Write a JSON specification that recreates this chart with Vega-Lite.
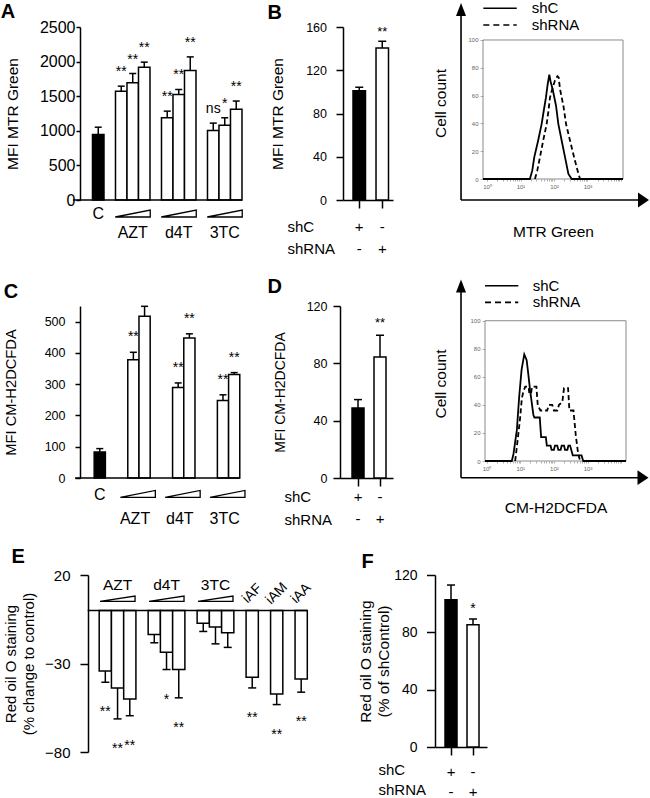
{
"$schema": "https://vega.github.io/schema/vega-lite/v6.json",
"background": "white",
"padding": {"left": 0, "top": 1, "right": 0, "bottom": 0},
"config": {
 "font": "Liberation Sans",
 "view": {"stroke": null},
 "axis": {"domainColor": "black", "domainWidth": 1.5, "tickColor": "black", "tickWidth": 1.5, "labelColor": "black", "titleColor": "black", "labelFont": "Liberation Sans", "titleFont": "Liberation Sans", "titleFontWeight": "normal", "grid": false, "labelFlush": false, "labelOverlap": false, "tickCount": 100},
 "text": {"font": "Liberation Sans", "color": "black"}
},
"datasets": {
 "A": [
  {"slot":"C","mean":945,"upper":1052,"group":"control","sig":""},
  {"slot":"AZT1","mean":1572,"upper":1645,"group":"treated","sig":"**"},
  {"slot":"AZT2","mean":1695,"upper":1828,"group":"treated","sig":"**"},
  {"slot":"AZT3","mean":1918,"upper":1992,"group":"treated","sig":"**"},
  {"slot":"d4T1","mean":1188,"upper":1284,"group":"treated","sig":"**"},
  {"slot":"d4T2","mean":1525,"upper":1597,"group":"treated","sig":"**"},
  {"slot":"d4T3","mean":1871,"upper":2068,"group":"treated","sig":"**"},
  {"slot":"3TC1","mean":1006,"upper":1111,"group":"treated","sig":"ns"},
  {"slot":"3TC2","mean":1080,"upper":1188,"group":"treated","sig":"*"},
  {"slot":"3TC3","mean":1313,"upper":1430,"group":"treated","sig":"**"}
 ],
 "B": [
  {"g":"shC","mean":101,"upper":104.3,"group":"control","sig":""},
  {"g":"shRNA","mean":140.6,"upper":146.8,"group":"treated","sig":"**"}
 ],
 "C": [
  {"slot":"C","mean":83,"upper":94,"group":"control","sig":""},
  {"slot":"AZT2","mean":378,"upper":402,"group":"treated","sig":"**"},
  {"slot":"AZT3","mean":517,"upper":549,"group":"treated","sig":""},
  {"slot":"d4T2","mean":289,"upper":304,"group":"treated","sig":"**"},
  {"slot":"d4T3","mean":448,"upper":461,"group":"treated","sig":"**"},
  {"slot":"3TC2","mean":248,"upper":266,"group":"treated","sig":"**"},
  {"slot":"3TC3","mean":331,"upper":337,"group":"treated","sig":"**"}
 ],
 "D": [
  {"g":"shC","mean":48.8,"upper":54.7,"group":"control","sig":""},
  {"g":"shRNA","mean":84.4,"upper":99.6,"group":"treated","sig":"**"}
 ],
 "E": [
  {"slot":"AZT1","mean":-34.3,"lower":-40.6,"sig":"**"},
  {"slot":"AZT2","mean":-43.8,"lower":-61.3,"sig":"**"},
  {"slot":"AZT3","mean":-50.0,"lower":-59.5,"sig":"**"},
  {"slot":"d4T1","mean":-13.6,"lower":-18.3,"sig":""},
  {"slot":"d4T2","mean":-23.6,"lower":-33.4,"sig":"*"},
  {"slot":"d4T3","mean":-33.4,"lower":-49.4,"sig":"**"},
  {"slot":"3TC1","mean":-7.2,"lower":-11.9,"sig":""},
  {"slot":"3TC2","mean":-9.4,"lower":-18.9,"sig":""},
  {"slot":"3TC3","mean":-12.6,"lower":-20.9,"sig":""},
  {"slot":"iAF","mean":-37.7,"lower":-43.8,"sig":"**"},
  {"slot":"iAM","mean":-47.2,"lower":-53.2,"sig":"**"},
  {"slot":"iAA","mean":-38.7,"lower":-46.2,"sig":"**"}
 ],
 "F": [
  {"g":"shC","mean":102.7,"upper":113,"group":"control","sig":""},
  {"g":"shRNA","mean":85.3,"upper":89.3,"group":"treated","sig":"*"}
 ],
 "H1": [
  {"series":"shC","x":0.7586,"n":0},{"series":"shC","x":19.05,"n":0},{"series":"shC","x":22.39,"n":6},{"series":"shC","x":25.7,"n":15.6},{"series":"shC","x":33.11,"n":27},{"series":"shC","x":42.66,"n":39.5},{"series":"shC","x":50.12,"n":50},{"series":"shC","x":57.54,"n":58.7},{"series":"shC","x":64.57,"n":68},{"series":"shC","x":72.44,"n":75},{"series":"shC","x":79.43,"n":70},{"series":"shC","x":91.2,"n":64.6},{"series":"shC","x":114.8,"n":52.7},{"series":"shC","x":134.9,"n":39.5},{"series":"shC","x":169.8,"n":27.5},{"series":"shC","x":213.8,"n":15.6},{"series":"shC","x":269.2,"n":3.6},{"series":"shC","x":338.8,"n":0},{"series":"shC","x":11482,"n":0},
  {"series":"shRNA","x":26.92,"n":0},{"series":"shRNA","x":31.62,"n":6},{"series":"shRNA","x":38.02,"n":15.6},{"series":"shRNA","x":47.86,"n":28},{"series":"shRNA","x":60.26,"n":39.5},{"series":"shRNA","x":69.18,"n":50},{"series":"shRNA","x":75.86,"n":58.7},{"series":"shRNA","x":89.13,"n":65},{"series":"shRNA","x":107.2,"n":71},{"series":"shRNA","x":125.9,"n":74},{"series":"shRNA","x":138.0,"n":73},{"series":"shRNA","x":151.4,"n":64.6},{"series":"shRNA","x":190.5,"n":52.7},{"series":"shRNA","x":229.1,"n":39.5},{"series":"shRNA","x":302.0,"n":27.5},{"series":"shRNA","x":398.1,"n":15.6},{"series":"shRNA","x":537.0,"n":3.6},{"series":"shRNA","x":602.6,"n":0}
 ],
 "H2": [
  {"series":"shC","x":0.9016,"n":0},{"series":"shC","x":5.623,"n":0},{"series":"shC","x":6.31,"n":5},{"series":"shC","x":7.943,"n":22},{"series":"shC","x":9.333,"n":46},{"series":"shC","x":10.96,"n":65},{"series":"shC","x":13.18,"n":76},{"series":"shC","x":15.49,"n":72},{"series":"shC","x":17.38,"n":62},{"series":"shC","x":19.5,"n":51},{"series":"shC","x":21.88,"n":42},{"series":"shC","x":24.55,"n":33},{"series":"shC","x":26.3,"n":31},{"series":"shC","x":38.02,"n":31},{"series":"shC","x":41.69,"n":17},{"series":"shC","x":57.54,"n":17},{"series":"shC","x":61.66,"n":11},{"series":"shC","x":79.43,"n":11},{"series":"shC","x":85.11,"n":8},{"series":"shC","x":100,"n":8},{"series":"shC","x":107.2,"n":11},{"series":"shC","x":125.9,"n":11},{"series":"shC","x":134.9,"n":8},{"series":"shC","x":158.5,"n":8},{"series":"shC","x":169.8,"n":11},{"series":"shC","x":199.5,"n":11},{"series":"shC","x":213.8,"n":8},{"series":"shC","x":251.2,"n":8},{"series":"shC","x":269.2,"n":11},{"series":"shC","x":302.0,"n":11},{"series":"shC","x":363.1,"n":4},{"series":"shC","x":660.7,"n":4},{"series":"shC","x":741.3,"n":0},{"series":"shC","x":13772,"n":0},
  {"series":"shRNA","x":7.079,"n":0},{"series":"shRNA","x":7.943,"n":10},{"series":"shRNA","x":9.772,"n":29},{"series":"shRNA","x":11.22,"n":45},{"series":"shRNA","x":12.59,"n":50},{"series":"shRNA","x":14.13,"n":53},{"series":"shRNA","x":17.78,"n":53},{"series":"shRNA","x":18.62,"n":48},{"series":"shRNA","x":20.89,"n":48},{"series":"shRNA","x":22.39,"n":53},{"series":"shRNA","x":30.2,"n":53},{"series":"shRNA","x":33.11,"n":40},{"series":"shRNA","x":39.81,"n":36},{"series":"shRNA","x":63.1,"n":36},{"series":"shRNA","x":70.79,"n":40},{"series":"shRNA","x":89.13,"n":40},{"series":"shRNA","x":100,"n":36},{"series":"shRNA","x":125.9,"n":36},{"series":"shRNA","x":141.3,"n":40},{"series":"shRNA","x":177.8,"n":42},{"series":"shRNA","x":199.5,"n":52},{"series":"shRNA","x":263.0,"n":52},{"series":"shRNA","x":288.4,"n":36},{"series":"shRNA","x":380.2,"n":36},{"series":"shRNA","x":446.7,"n":18},{"series":"shRNA","x":524.8,"n":5},{"series":"shRNA","x":602.6,"n":0}
 ]
},
"spacing": 19,
"vconcat": [
 {"hconcat": [
  {"width": 172.5, "height": 173,
   "layer": [
    {"data": {"name": "A"}, "mark": {"type": "bar", "stroke": "black", "strokeWidth": 1.5},
     "encoding": {
      "x": {"field": "slot", "type": "nominal", "scale": {"domain": ["C","a1","AZT1","AZT2","AZT3","a2","d4T1","d4T2","d4T3","a3","3TC1","3TC2","3TC3"], "paddingInner": 0, "paddingOuter": 1.569, "align": 0.543}, "axis": null},
      "y": {"field": "mean", "type": "quantitative", "scale": {"domain": [0, 2500], "nice": false}, "axis": {"values": [0,500,1000,1500,2000,2500], "format": "d", "title": "MFI MTR Green", "labelFontSize": 16, "tickSize": 4, "labelPadding": 1, "titleFontSize": 15.5, "titlePadding": 19.3}},
      "fill": {"field": "group", "type": "nominal", "scale": {"domain": ["control","treated"], "range": ["black","white"]}, "legend": null}}},
    {"data": {"name": "A"}, "mark": {"type": "rule", "strokeWidth": 1.5, "color": "black"}, "encoding": {"x": {"field": "slot", "type": "nominal"}, "y": {"field": "mean", "type": "quantitative"}, "y2": {"field": "upper"}}},
    {"data": {"name": "A"}, "mark": {"type": "tick", "thickness": 1.5, "size": 7, "color": "black", "opacity": 1}, "encoding": {"x": {"field": "slot", "type": "nominal"}, "y": {"field": "upper", "type": "quantitative"}}},
    {"data": {"name": "A"}, "mark": {"type": "text", "fontSize": 14, "dy": -10, "baseline": "alphabetic"}, "encoding": {"x": {"field": "slot", "type": "nominal"}, "y": {"field": "upper", "type": "quantitative"}, "text": {"field": "sig"}}},
    {"data": {"values": [{}]}, "mark": {"type": "rule", "strokeWidth": 1.5, "color": "black"}, "encoding": {"x": {"datum": "C", "type": "nominal", "bandPosition": -1.703}, "x2": {"datum": "3TC3", "bandPosition": 1}, "y": {"datum": 0, "type": "quantitative"}}},
    {"data": {"values": [{"slot":"AZT2"},{"slot":"d4T2"},{"slot":"3TC2"}]}, "mark": {"type": "point", "shape": "M-1,0.2L1,0.2L1,-0.2Z", "size": 1225, "filled": false, "stroke": "black", "strokeWidth": 1.3, "opacity": 1}, "encoding": {"x": {"field": "slot", "type": "nominal"}, "y": {"datum": -195, "type": "quantitative"}}},
    {"data": {"values": [{"slot":"AZT2","label":"AZT"},{"slot":"d4T2","label":"d4T"},{"slot":"3TC2","label":"3TC"}]}, "mark": {"type": "text", "fontSize": 16, "baseline": "middle"}, "encoding": {"x": {"field": "slot", "type": "nominal"}, "y": {"datum": -476, "type": "quantitative"}, "text": {"field": "label"}}},
    {"data": {"values": [{"slot":"C","label":"C"}]}, "mark": {"type": "text", "fontSize": 16, "baseline": "middle"}, "encoding": {"x": {"field": "slot", "type": "nominal"}, "y": {"datum": -202, "type": "quantitative"}, "text": {"field": "label"}}},
    {"data": {"values": [{"panel": "A"}]}, "mark": {"type": "text", "fontSize": 20, "fontWeight": "bold", "align": "left", "baseline": "alphabetic"}, "encoding": {"x": {"datum": "C", "type": "nominal", "bandPosition": -7.98}, "y": {"datum": 2633, "type": "quantitative"}, "text": {"field": "panel"}}}
   ]},
  {"width": 50, "height": 173,
   "layer": [
    {"data": {"name": "B"}, "mark": {"type": "bar", "stroke": "black", "strokeWidth": 1.5},
     "encoding": {
      "x": {"field": "g", "type": "nominal", "scale": {"domain": ["shC","shRNA"], "paddingInner": 0.457, "paddingOuter": 0.315, "align": 0.69},
            "axis": {"labelExpr": "datum.value == 'shC' ? ['+', '-'] : ['-', '+']", "labelAngle": 0, "labelFontSize": 15, "labelLineHeight": 22, "labelBaseline": "top", "tickSize": 8, "labelPadding": 11.2, "title": ["shC", "shRNA"], "titleFontSize": 15, "titleLineHeight": 22, "titleAlign": "left", "titleBaseline": "top", "titleX": -56, "titleY": 19.5, "titleAngle": 0}},
      "y": {"field": "mean", "type": "quantitative", "scale": {"domain": [0, 160], "nice": false}, "axis": {"values": [0,40,80,120,160], "title": "MFI MTR Green", "labelFontSize": 12.5, "tickSize": 7, "labelPadding": 9.5, "titleFontSize": 15.5, "titlePadding": 19.9}},
      "fill": {"field": "group", "type": "nominal", "scale": {"domain": ["control","treated"], "range": ["black","white"]}, "legend": null}}},
    {"data": {"name": "B"}, "mark": {"type": "rule", "strokeWidth": 1.5, "color": "black"}, "encoding": {"x": {"field": "g", "type": "nominal"}, "y": {"field": "mean", "type": "quantitative"}, "y2": {"field": "upper"}}},
    {"data": {"name": "B"}, "mark": {"type": "tick", "thickness": 1.5, "size": 8, "color": "black", "opacity": 1}, "encoding": {"x": {"field": "g", "type": "nominal"}, "y": {"field": "upper", "type": "quantitative"}}},
    {"data": {"name": "B"}, "mark": {"type": "text", "fontSize": 13, "dy": -5.5, "baseline": "alphabetic"}, "encoding": {"x": {"field": "g", "type": "nominal"}, "y": {"field": "upper", "type": "quantitative"}, "text": {"field": "sig"}}},
    {"data": {"values": [{"panel": "B"}]}, "mark": {"type": "text", "fontSize": 20, "fontWeight": "bold", "align": "left", "baseline": "alphabetic"}, "encoding": {"x": {"datum": "shC", "type": "nominal", "bandPosition": -6.84}, "y": {"datum": 167.8, "type": "quantitative"}, "text": {"field": "panel"}}}
   ]},
  {"width": 140, "height": 152,
   "layer": [
    {"data": {"values": [{}]}, "mark": {"type": "rect", "fillOpacity": 0, "stroke": "#8a8a8a", "strokeWidth": 1},
     "encoding": {
      "x": {"datum": 0.7586, "type": "quantitative", "scale": {"type": "log", "domain": [0.7586, 11482], "nice": false},
            "axis": {"values": [1,2,3,4,5,6,7,8,9,10,20,30,40,50,60,70,80,90,100,200,300,400,500,600,700,800,900,1000,2000,3000,4000,5000,6000,7000,8000,9000,10000], "tickCount": 100, "labelExpr": "datum.value == 1 ? '10⁰' : datum.value == 10 ? '10¹' : datum.value == 100 ? '10²' : datum.value == 1000 ? '10³' : ''", "labelFontSize": 6, "labelColor": "#666", "tickColor": "#999", "tickSize": 2, "tickWidth": 0.8, "domain": false, "labelPadding": 2, "title": "MTR Green", "titleFontSize": 15.5, "titlePadding": 35}},
      "x2": {"datum": 11482},
      "y": {"datum": 0, "type": "quantitative", "scale": {"domain": [0, 109.35], "nice": false},
            "axis": {"values": [0,20,40,60,80,100], "labelFontSize": 6, "labelColor": "#666", "tickColor": "#999", "tickSize": 3, "tickWidth": 0.8, "domain": false, "labelPadding": 2, "title": "Cell count", "titleFontSize": 15.5, "titlePadding": 19.2}},
      "y2": {"datum": 100}}},
    {"data": {"name": "H1"}, "transform": [{"filter": "datum.series == 'shRNA'"}], "mark": {"type": "line", "color": "black", "strokeWidth": 1.8, "strokeDash": [5, 3]}, "encoding": {"x": {"field": "x", "type": "quantitative"}, "y": {"field": "n", "type": "quantitative"}}},
    {"data": {"name": "H1"}, "transform": [{"filter": "datum.series == 'shC'"}], "mark": {"type": "line", "color": "black", "strokeWidth": 1.8}, "encoding": {"x": {"field": "x", "type": "quantitative"}, "y": {"field": "n", "type": "quantitative"}}},
    {"data": {"values": [{}]}, "mark": {"type": "rule", "color": "black", "strokeWidth": 1.6}, "encoding": {"x": {"datum": 0.1675, "type": "quantitative"}, "y": {"datum": -15.1, "type": "quantitative"}, "y2": {"datum": 121}}},
    {"data": {"values": [{}]}, "mark": {"type": "rule", "color": "black", "strokeWidth": 1.6}, "encoding": {"x": {"datum": 0.1675, "type": "quantitative"}, "x2": {"datum": 46990}, "y": {"datum": -15.1, "type": "quantitative"}}},
    {"data": {"values": [{}]}, "mark": {"type": "point", "shape": "M0,-1L0.77,1L-0.77,1Z", "size": 169, "filled": true, "color": "black", "opacity": 1, "strokeWidth": 0}, "encoding": {"x": {"datum": 0.1675, "type": "quantitative"}, "y": {"datum": 121.9, "type": "quantitative"}}},
    {"data": {"values": [{}]}, "mark": {"type": "point", "shape": "M1,0L-1,1.35L-1,-1.35Z", "size": 121, "filled": true, "color": "black", "opacity": 1, "strokeWidth": 0}, "encoding": {"x": {"datum": 46990, "type": "quantitative"}, "y": {"datum": -15.1, "type": "quantitative"}}},
    {"data": {"values": [{}]}, "mark": {"type": "rule", "color": "black", "strokeWidth": 1.6}, "encoding": {"x": {"datum": 0.776, "type": "quantitative"}, "x2": {"datum": 7.71}, "y": {"datum": 122.8, "type": "quantitative"}}},
    {"data": {"values": [{}]}, "mark": {"type": "rule", "color": "black", "strokeWidth": 1.6, "strokeDash": [6, 4]}, "encoding": {"x": {"datum": 0.776, "type": "quantitative"}, "x2": {"datum": 7.71}, "y": {"datum": 110.8, "type": "quantitative"}}},
    {"data": {"values": [{}]}, "mark": {"type": "text", "text": "shC", "align": "left", "baseline": "middle", "fontSize": 15}, "encoding": {"x": {"datum": 21.6, "type": "quantitative"}, "y": {"datum": 122.8, "type": "quantitative"}}},
    {"data": {"values": [{}]}, "mark": {"type": "text", "text": "shRNA", "align": "left", "baseline": "middle", "fontSize": 15}, "encoding": {"x": {"datum": 21.6, "type": "quantitative"}, "y": {"datum": 110.8, "type": "quantitative"}}}
   ]}
 ], "spacing": 90, "bounds": "flush"},
 {"hconcat": [
  {"width": 168, "height": 172,
   "layer": [
    {"data": {"name": "C"}, "mark": {"type": "bar", "stroke": "black", "strokeWidth": 1.5},
     "encoding": {
      "x": {"field": "slot", "type": "nominal", "scale": {"domain": ["C","a1","AZT1","AZT2","AZT3","a2","d4T1","d4T2","d4T3","a3","3TC1","3TC2","3TC3"], "paddingInner": 0, "paddingOuter": 1.345, "align": 0.633}, "axis": null},
      "y": {"field": "mean", "type": "quantitative", "scale": {"domain": [0, 550], "nice": false}, "axis": {"values": [0,100,200,300,400,500], "title": "MFI CM-H2DCFDA", "labelFontSize": 12.5, "tickSize": 5, "labelPadding": 10, "titleFontSize": 14.7, "titlePadding": 25.8}},
      "fill": {"field": "group", "type": "nominal", "scale": {"domain": ["control","treated"], "range": ["black","white"]}, "legend": null}}},
    {"data": {"name": "C"}, "mark": {"type": "rule", "strokeWidth": 1.5, "color": "black"}, "encoding": {"x": {"field": "slot", "type": "nominal"}, "y": {"field": "mean", "type": "quantitative"}, "y2": {"field": "upper"}}},
    {"data": {"name": "C"}, "mark": {"type": "tick", "thickness": 1.5, "size": 7, "color": "black", "opacity": 1}, "encoding": {"x": {"field": "slot", "type": "nominal"}, "y": {"field": "upper", "type": "quantitative"}}},
    {"data": {"name": "C"}, "mark": {"type": "text", "fontSize": 14, "dy": -11, "baseline": "alphabetic"}, "encoding": {"x": {"field": "slot", "type": "nominal"}, "y": {"field": "upper", "type": "quantitative"}, "text": {"field": "sig"}}},
    {"data": {"values": [{}]}, "mark": {"type": "rule", "strokeWidth": 1.5, "color": "black"}, "encoding": {"x": {"datum": "C", "type": "nominal", "bandPosition": -1.703}, "x2": {"datum": "3TC3", "bandPosition": 1}, "y": {"datum": 0, "type": "quantitative"}}},
    {"data": {"values": [{"slot":"AZT2"},{"slot":"d4T2"},{"slot":"3TC2"}]}, "mark": {"type": "point", "shape": "M-1,0.2L1,0.2L1,-0.2Z", "size": 1225, "filled": false, "stroke": "black", "strokeWidth": 1.3, "opacity": 1}, "encoding": {"x": {"field": "slot", "type": "nominal", "bandPosition": 0.9}, "y": {"datum": -51, "type": "quantitative"}}},
    {"data": {"values": [{"slot":"AZT2","label":"AZT"},{"slot":"d4T2","label":"d4T"},{"slot":"3TC2","label":"3TC"}]}, "mark": {"type": "text", "fontSize": 16, "baseline": "middle"}, "encoding": {"x": {"field": "slot", "type": "nominal", "bandPosition": 0.65}, "y": {"datum": -130, "type": "quantitative"}, "text": {"field": "label"}}},
    {"data": {"values": [{"slot":"C","label":"C"}]}, "mark": {"type": "text", "fontSize": 16, "baseline": "middle"}, "encoding": {"x": {"field": "slot", "type": "nominal"}, "y": {"datum": -55, "type": "quantitative"}, "text": {"field": "label"}}},
    {"data": {"values": [{"panel": "C"}]}, "mark": {"type": "text", "fontSize": 20, "fontWeight": "bold", "align": "left", "baseline": "alphabetic"}, "encoding": {"x": {"datum": "C", "type": "nominal", "bandPosition": -8.07}, "y": {"datum": 576.9, "type": "quantitative"}, "text": {"field": "panel"}}}
   ]},
  {"width": 53, "height": 172,
   "layer": [
    {"data": {"name": "D"}, "mark": {"type": "bar", "stroke": "black", "strokeWidth": 1.5},
     "encoding": {
      "x": {"field": "g", "type": "nominal", "scale": {"domain": ["shC","shRNA"], "paddingInner": 0.4545, "paddingOuter": 0.432, "align": 0.632},
            "axis": {"labelExpr": "datum.value == 'shC' ? ['+', '-'] : ['-', '+']", "labelAngle": 0, "labelFontSize": 15, "labelLineHeight": 22.3, "labelBaseline": "top", "tickSize": 8, "labelPadding": 3.5, "title": ["shC", "shRNA"], "titleFontSize": 15, "titleLineHeight": 22.3, "titleAlign": "left", "titleBaseline": "top", "titleX": -56, "titleY": 11.9, "titleAngle": 0}},
      "y": {"field": "mean", "type": "quantitative", "scale": {"domain": [0, 120], "nice": false}, "axis": {"values": [0,40,80,120], "title": "MFI CM-H2DCFDA", "labelFontSize": 12.5, "tickSize": 7, "labelPadding": 6, "titleFontSize": 14, "titlePadding": 18.2}},
      "fill": {"field": "group", "type": "nominal", "scale": {"domain": ["control","treated"], "range": ["black","white"]}, "legend": null}}},
    {"data": {"name": "D"}, "mark": {"type": "rule", "strokeWidth": 1.5, "color": "black"}, "encoding": {"x": {"field": "g", "type": "nominal"}, "y": {"field": "mean", "type": "quantitative"}, "y2": {"field": "upper"}}},
    {"data": {"name": "D"}, "mark": {"type": "tick", "thickness": 1.5, "size": 8, "color": "black", "opacity": 1}, "encoding": {"x": {"field": "g", "type": "nominal"}, "y": {"field": "upper", "type": "quantitative"}}},
    {"data": {"name": "D"}, "mark": {"type": "text", "fontSize": 13, "dy": -8.7, "baseline": "alphabetic"}, "encoding": {"x": {"field": "g", "type": "nominal"}, "y": {"field": "upper", "type": "quantitative"}, "text": {"field": "sig"}}},
    {"data": {"values": [{"panel": "D"}]}, "mark": {"type": "text", "fontSize": 20, "fontWeight": "bold", "align": "left", "baseline": "alphabetic"}, "encoding": {"x": {"datum": "shC", "type": "nominal", "bandPosition": -7.04}, "y": {"datum": 129.4, "type": "quantitative"}, "text": {"field": "panel"}}}
   ]},
  {"width": 141, "height": 155,
   "layer": [
    {"data": {"values": [{}]}, "mark": {"type": "rect", "fillOpacity": 0, "stroke": "#8a8a8a", "strokeWidth": 1},
     "encoding": {
      "x": {"datum": 0.9016, "type": "quantitative", "scale": {"type": "log", "domain": [0.9016, 13772], "nice": false},
            "axis": {"values": [1,2,3,4,5,6,7,8,9,10,20,30,40,50,60,70,80,90,100,200,300,400,500,600,700,800,900,1000,2000,3000,4000,5000,6000,7000,8000,9000,10000], "tickCount": 100, "labelExpr": "datum.value == 1 ? '10⁰' : datum.value == 10 ? '10¹' : datum.value == 100 ? '10²' : datum.value == 1000 ? '10³' : ''", "labelFontSize": 6, "labelColor": "#666", "tickColor": "#999", "tickSize": 2, "tickWidth": 0.8, "domain": false, "labelPadding": 2, "title": "CM-H2DCFDA", "titleFontSize": 15.5, "titlePadding": 29}},
      "x2": {"datum": 13772},
      "y": {"datum": 0, "type": "quantitative", "scale": {"domain": [0, 110.5], "nice": false},
            "axis": {"values": [0,20,40,60,80,100], "labelFontSize": 6, "labelColor": "#666", "tickColor": "#999", "tickSize": 3, "tickWidth": 0.8, "domain": false, "labelPadding": 2, "title": "Cell count", "titleFontSize": 15.5, "titlePadding": 21.2}},
      "y2": {"datum": 100}}},
    {"data": {"name": "H2"}, "transform": [{"filter": "datum.series == 'shRNA'"}], "mark": {"type": "line", "color": "black", "strokeWidth": 1.8, "strokeDash": [5, 3]}, "encoding": {"x": {"field": "x", "type": "quantitative"}, "y": {"field": "n", "type": "quantitative"}}},
    {"data": {"name": "H2"}, "transform": [{"filter": "datum.series == 'shC'"}], "mark": {"type": "line", "color": "black", "strokeWidth": 1.8}, "encoding": {"x": {"field": "x", "type": "quantitative"}, "y": {"field": "n", "type": "quantitative"}}},
    {"data": {"values": [{}]}, "mark": {"type": "rule", "color": "black", "strokeWidth": 1.6}, "encoding": {"x": {"datum": 0.175, "type": "quantitative"}, "y": {"datum": -11.9, "type": "quantitative"}, "y2": {"datum": 124}}},
    {"data": {"values": [{}]}, "mark": {"type": "rule", "color": "black", "strokeWidth": 1.6}, "encoding": {"x": {"datum": 0.175, "type": "quantitative"}, "x2": {"datum": 44055}, "y": {"datum": -11.9, "type": "quantitative"}}},
    {"data": {"values": [{}]}, "mark": {"type": "point", "shape": "M0,-1L0.77,1L-0.77,1Z", "size": 169, "filled": true, "color": "black", "opacity": 1, "strokeWidth": 0}, "encoding": {"x": {"datum": 0.175, "type": "quantitative"}, "y": {"datum": 124.7, "type": "quantitative"}}},
    {"data": {"values": [{}]}, "mark": {"type": "point", "shape": "M1,0L-1,1.35L-1,-1.35Z", "size": 121, "filled": true, "color": "black", "opacity": 1, "strokeWidth": 0}, "encoding": {"x": {"datum": 44055, "type": "quantitative"}, "y": {"datum": -11.9, "type": "quantitative"}}},
    {"data": {"values": [{}]}, "mark": {"type": "rule", "color": "black", "strokeWidth": 1.6}, "encoding": {"x": {"datum": 0.902, "type": "quantitative"}, "x2": {"datum": 8.78}, "y": {"datum": 124.9, "type": "quantitative"}}},
    {"data": {"values": [{}]}, "mark": {"type": "rule", "color": "black", "strokeWidth": 1.6, "strokeDash": [6, 4]}, "encoding": {"x": {"datum": 0.902, "type": "quantitative"}, "x2": {"datum": 8.78}, "y": {"datum": 113.1, "type": "quantitative"}}},
    {"data": {"values": [{}]}, "mark": {"type": "text", "text": "shC", "align": "left", "baseline": "middle", "fontSize": 15}, "encoding": {"x": {"datum": 23.5, "type": "quantitative"}, "y": {"datum": 124.9, "type": "quantitative"}}},
    {"data": {"values": [{}]}, "mark": {"type": "text", "text": "shRNA", "align": "left", "baseline": "middle", "fontSize": 15}, "encoding": {"x": {"datum": 23.5, "type": "quantitative"}, "y": {"datum": 113.1, "type": "quantitative"}}}
   ]}
 ], "spacing": 92, "bounds": "flush"},
 {"hconcat": [
  {"width": 227.3, "height": 177,
   "layer": [
    {"data": {"name": "E"}, "mark": {"type": "bar", "stroke": "black", "strokeWidth": 1.5, "fill": "white"},
     "encoding": {
      "x": {"field": "slot", "type": "nominal", "scale": {"domain": ["AZT1","AZT2","AZT3","e1","d4T1","d4T2","d4T3","e2","3TC1","3TC2","3TC3","e3","iAF","e4","iAM","e5","iAA"], "paddingInner": 0, "paddingOuter": 0.784, "align": 1}, "axis": null},
      "y": {"field": "mean", "type": "quantitative", "scale": {"domain": [-80, 20], "nice": false}, "axis": {"values": [20,-30,-80], "offset": -8, "title": ["Red oil O staining", "(% change to  control)"], "labelFontSize": 15, "tickSize": 8, "labelPadding": 10, "titleFontSize": 15, "titleLineHeight": 18.4, "titlePadding": 8}}}},
    {"data": {"name": "E"}, "mark": {"type": "rule", "strokeWidth": 1.5, "color": "black"}, "encoding": {"x": {"field": "slot", "type": "nominal"}, "y": {"field": "mean", "type": "quantitative"}, "y2": {"field": "lower"}}},
    {"data": {"name": "E"}, "mark": {"type": "tick", "thickness": 1.5, "size": 8, "color": "black", "opacity": 1}, "encoding": {"x": {"field": "slot", "type": "nominal"}, "y": {"field": "lower", "type": "quantitative"}}},
    {"data": {"name": "E"}, "mark": {"type": "text", "fontSize": 14, "dy": 34, "baseline": "alphabetic"}, "encoding": {"x": {"field": "slot", "type": "nominal"}, "y": {"field": "lower", "type": "quantitative"}, "text": {"field": "sig"}}},
    {"data": {"values": [{}]}, "mark": {"type": "rule", "strokeWidth": 1.5, "color": "black"}, "encoding": {"x": {"datum": "AZT1", "type": "nominal", "bandPosition": -0.94}, "x2": {"datum": "iAA", "bandPosition": 1}, "y": {"datum": 0, "type": "quantitative"}}},
    {"data": {"values": [{"slot":"AZT2"},{"slot":"d4T2"},{"slot":"3TC2"}]}, "mark": {"type": "point", "shape": "M-1,0.15L1,0.15L1,-0.15Z", "size": 1225, "filled": false, "stroke": "black", "strokeWidth": 1.3, "opacity": 1}, "encoding": {"x": {"field": "slot", "type": "nominal"}, "y": {"datum": 6.6, "type": "quantitative"}}},
    {"data": {"values": [{"slot":"AZT2","label":"AZT"},{"slot":"d4T2","label":"d4T"},{"slot":"3TC2","label":"3TC"}]}, "mark": {"type": "text", "fontSize": 15.5, "baseline": "middle"}, "encoding": {"x": {"field": "slot", "type": "nominal"}, "y": {"datum": 14.6, "type": "quantitative"}, "text": {"field": "label"}}},
    {"data": {"values": [{"slot":"iAF","label":"iAF"},{"slot":"iAM","label":"iAM"},{"slot":"iAA","label":"iAA"}]}, "mark": {"type": "text", "fontSize": 14, "baseline": "middle", "align": "center", "angle": 315}, "encoding": {"x": {"field": "slot", "type": "nominal"}, "y": {"datum": 9.5, "type": "quantitative"}, "text": {"field": "label"}}},
    {"data": {"values": [{"panel": "E"}]}, "mark": {"type": "text", "fontSize": 20, "fontWeight": "bold", "align": "left", "baseline": "alphabetic"}, "encoding": {"x": {"datum": "AZT1", "type": "nominal", "bandPosition": -7.17}, "y": {"datum": 26.5, "type": "quantitative"}, "text": {"field": "panel"}}}
   ]},
  {"width": 52, "height": 172,
   "layer": [
    {"data": {"name": "F"}, "mark": {"type": "bar", "stroke": "black", "strokeWidth": 1.5},
     "encoding": {
      "x": {"field": "g", "type": "nominal", "scale": {"domain": ["shC","shRNA"], "paddingInner": 0.4545, "paddingOuter": 0.409, "align": 0.556},
            "axis": {"labelExpr": "datum.value == 'shC' ? ['+', '-'] : ['-', '+']", "labelAngle": 0, "labelFontSize": 15, "labelLineHeight": 20, "labelBaseline": "top", "tickSize": 8, "labelPadding": 9, "title": ["shC", "shRNA"], "titleFontSize": 15, "titleLineHeight": 20, "titleAlign": "left", "titleBaseline": "top", "titleX": -57, "titleY": 15.6, "titleAngle": 0}},
      "y": {"field": "mean", "type": "quantitative", "scale": {"domain": [0, 120], "nice": false}, "axis": {"values": [0,40,80,120], "title": ["Red oil O staining", "(% of shControl)"], "labelFontSize": 14, "tickSize": 8.5, "labelPadding": 9.5, "titleFontSize": 15.5, "titleLineHeight": 18.3, "titlePadding": 1.9}},
      "fill": {"field": "group", "type": "nominal", "scale": {"domain": ["control","treated"], "range": ["black","white"]}, "legend": null}}},
    {"data": {"name": "F"}, "mark": {"type": "rule", "strokeWidth": 1.5, "color": "black"}, "encoding": {"x": {"field": "g", "type": "nominal"}, "y": {"field": "mean", "type": "quantitative"}, "y2": {"field": "upper"}}},
    {"data": {"name": "F"}, "mark": {"type": "tick", "thickness": 1.5, "size": 8, "color": "black", "opacity": 1}, "encoding": {"x": {"field": "g", "type": "nominal"}, "y": {"field": "upper", "type": "quantitative"}}},
    {"data": {"name": "F"}, "mark": {"type": "text", "fontSize": 14, "dy": -6, "baseline": "alphabetic"}, "encoding": {"x": {"field": "g", "type": "nominal"}, "y": {"field": "upper", "type": "quantitative"}, "text": {"field": "sig"}}},
    {"data": {"values": [{"panel": "F"}]}, "mark": {"type": "text", "fontSize": 20, "fontWeight": "bold", "align": "left", "baseline": "alphabetic"}, "encoding": {"x": {"datum": "shC", "type": "nominal", "bandPosition": -6.96}, "y": {"datum": 125, "type": "quantitative"}, "text": {"field": "panel"}}}
   ]}
 ], "spacing": 127, "bounds": "flush"}
]
}
